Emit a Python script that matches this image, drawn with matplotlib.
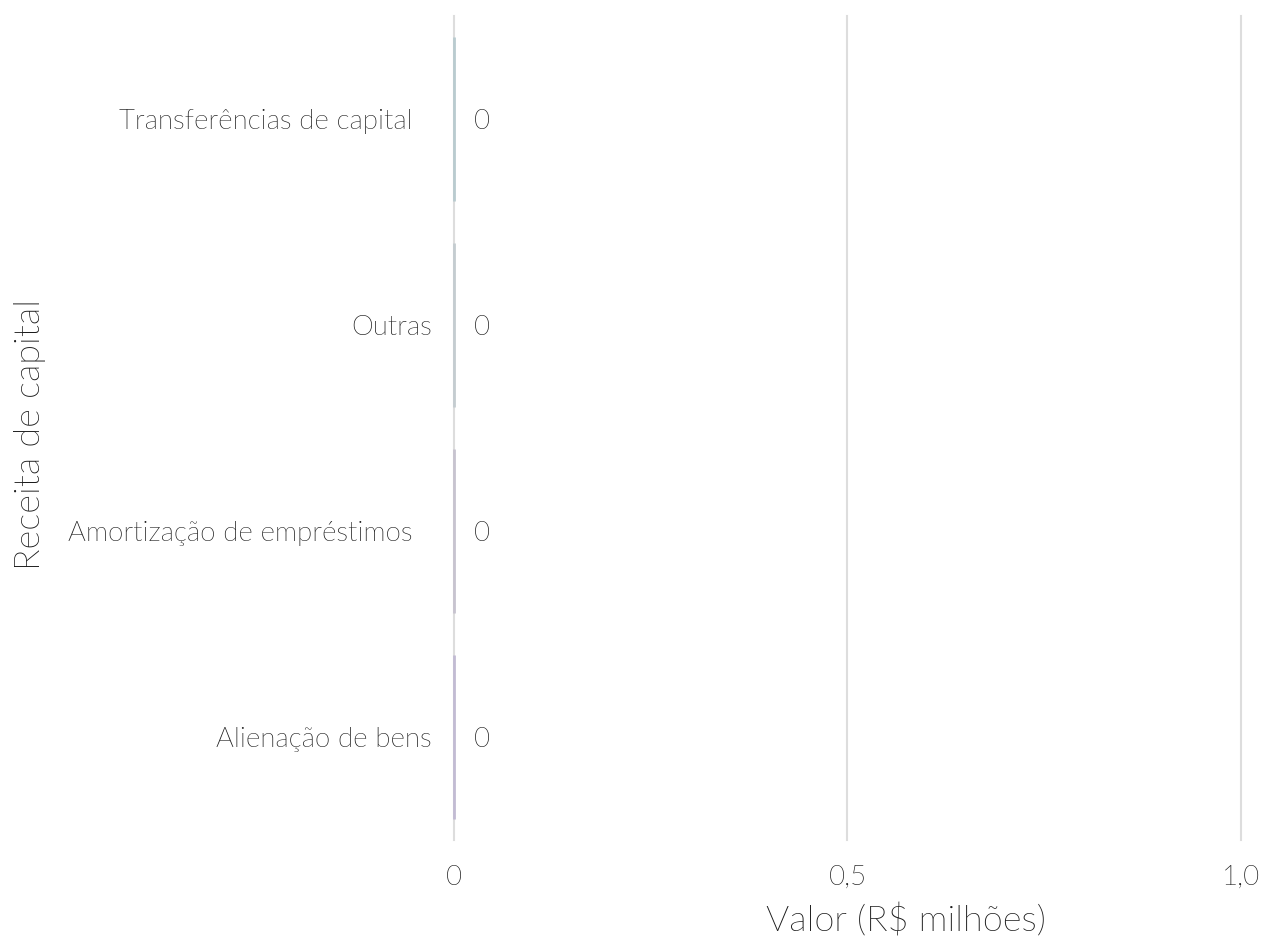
import matplotlib.pyplot as plt
import matplotlib.transforms as mtransforms
from matplotlib import font_manager as fm

categories = ['Alienação de bens', 'Amortização de empréstimos', 'Outras',
              'Transferências de capital']
values = [0, 0, 0, 0]
colors = ['#c2bbd3', '#c7c3cf', '#c4ccd0', '#b9cbcf']
xticks = [0, 0.5, 1.0]
xticklabels = ['0', '0,5', '1,0']

# look for Lato Light file (weight 'light' may resolve to Hairline)
light = None
for f in fm.fontManager.ttflist:
    fn = f.fname.lower()
    if 'lato' in fn and 'light' in fn and 'italic' not in fn and 'hairline' not in fn:
        light = f.fname
        break

def fp(size):
    if light:
        return fm.FontProperties(fname=light, size=size)
    return fm.FontProperties(family='Lato', weight='normal', size=size)

txt = '#1a1a1a'

fig = plt.figure(figsize=(12.65, 9.48), dpi=100)
ax = fig.add_axes([454 / 1265, 1 - 840 / 948, (1241 - 454) / 1265, (840 - 16) / 948])

ypos = range(len(categories))
ax.barh(ypos, values, height=0.8, color=colors, edgecolor=colors,
        linewidth=2, zorder=3, clip_on=False)

for y, v in zip(ypos, values):
    ax.annotate(f'{v:g}', (v, y), xytext=(14, -1.5), textcoords='offset points',
                ha='left', va='center', fontproperties=fp(20), color=txt)

ax.set_xlim(0, 1.0)
ax.set_ylim(-0.5, 3.5)
ax.set_xticks(xticks)
ax.set_xticklabels(xticklabels, fontproperties=fp(20), color=txt)
ax.set_yticks(list(ypos))
ax.set_yticklabels(categories, fontproperties=fp(20), color=txt)
ax.tick_params(axis='both', length=0)
ax.tick_params(axis='x', pad=18)
ax.tick_params(axis='y', pad=16)

# the long labels sit a bit further left in the original
for lab in ax.get_yticklabels():
    if len(lab.get_text()) > 20:
        lab.set_transform(lab.get_transform() + mtransforms.ScaledTranslation(
            -19 / 100, 0, fig.dpi_scale_trans))

ax.grid(axis='x', color='#dddddd', linewidth=1.5, zorder=0)
ax.grid(axis='y', visible=False)
for gl in ax.xaxis.get_gridlines():
    gl.set_clip_on(False)
for s in ax.spines.values():
    s.set_visible(False)

ax.set_xlabel('Valor (R$ milhões)', fontproperties=fp(26), color=txt)
ax.xaxis.set_label_coords((906 - 454) / 787, -(904 - 840) / 824)
ax.set_ylabel('Receita de capital', fontproperties=fp(26), color=txt)
ax.yaxis.set_label_coords(-(454 - 46) / 787, (840 - 435) / 824)

plt.savefig('out.png', dpi=100)
